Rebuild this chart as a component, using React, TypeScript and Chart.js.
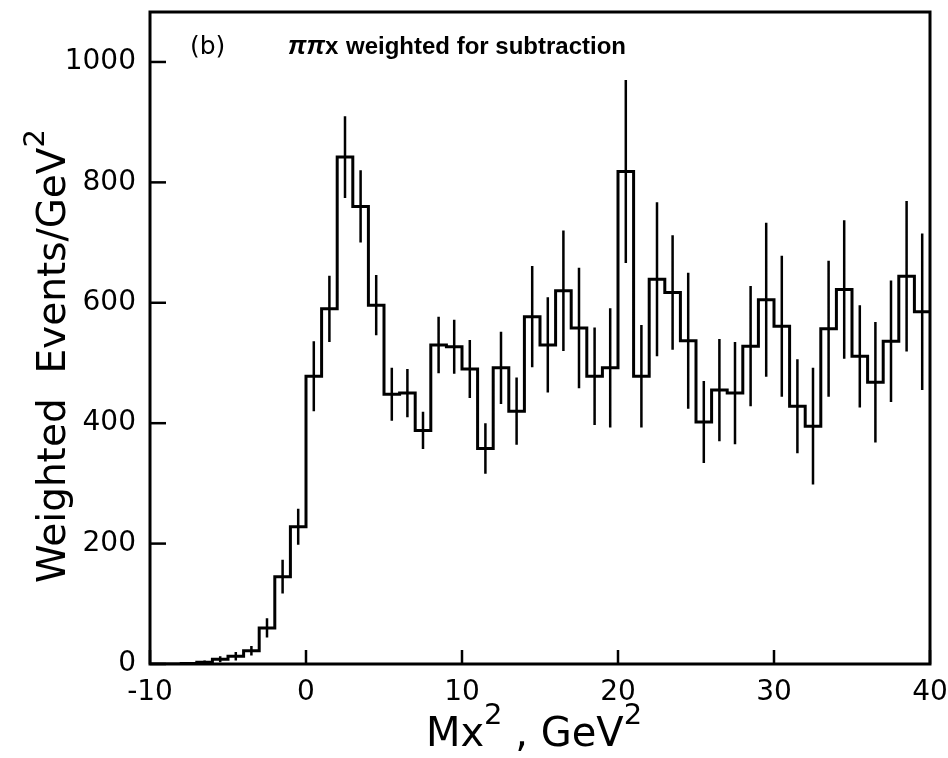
import React, { useEffect, useRef } from 'react';
import { Chart, registerables } from 'chart.js';

Chart.register(...registerables);

// Bin left edges (GeV^2), bin width 1
const binLeftEdges = [
  -10, -9, -8, -7, -6, -5, -4, -3, -2, -1,
  0, 1, 2, 3, 4, 5, 6, 7, 8, 9,
  10, 11, 12, 13, 14, 15, 16, 17, 18, 19,
  20, 21, 22, 23, 24, 25, 26, 27, 28, 29,
  30, 31, 32, 33, 34, 35, 36, 37, 38, 39,
];
const binWidth = 1;
const binValues = [
  0, 0, 1, 3, 8, 13, 22, 60, 145, 228,
  478, 590, 842, 760, 596, 448, 450, 388, 530, 527,
  490, 358, 492, 420, 577, 530, 620, 558, 478, 492,
  818, 478, 639, 617, 537, 402, 455, 450, 528, 605,
  561, 428, 395, 557, 622, 511, 468, 536, 644, 585,
];
const binErrors = [
  0, 0, 0, 3, 5, 7, 8, 16, 28, 30,
  58, 55, 68, 60, 50, 44, 40, 31, 47, 45,
  48, 42, 60, 56, 84, 79, 100, 100, 81, 99,
  152, 85, 128, 95, 113, 68, 85, 85, 100, 128,
  117, 78, 97, 113, 115, 85, 100, 101, 125, 130,
];
const xTickValues = [-10, 0, 10, 20, 30, 40];
const yTickValues = [0, 200, 400, 600, 800, 1000];
const xMin = -10;
const xMax = 40;
const yMin = 0;
const yMax = 1083;

const panelLabel = '(b)';
const panelTitle = 'weighted for subtraction';
const panelTitleGreek = 'ππ';
const xTitle = ['Mx', '2', ' , GeV', '2'];
const yTitle = ['Weighted  Events/GeV', '2'];

const FONT = '"DejaVu Sans", "Liberation Sans", sans-serif';
const FONT2 = '"Liberation Sans", Arial, sans-serif';

const decorPlugin = {
  id: 'decor',
  afterDraw(chart: any) {
    const { ctx, chartArea, scales } = chart;
    const { left, right, top, bottom } = chartArea;
    ctx.save();
    // frame
    ctx.strokeStyle = '#000';
    ctx.lineWidth = 3;
    ctx.strokeRect(left, top, right - left, bottom - top);
    // inward ticks
    ctx.lineWidth = 2.5;
    yTickValues.forEach((v) => {
      const y = scales.y.getPixelForValue(v);
      ctx.beginPath();
      ctx.moveTo(left, y);
      ctx.lineTo(left + 16, y);
      ctx.stroke();
    });
    xTickValues.forEach((v) => {
      const x = scales.x.getPixelForValue(v);
      ctx.beginPath();
      ctx.moveTo(x, bottom);
      ctx.lineTo(x, bottom - 14);
      ctx.stroke();
    });
    ctx.fillStyle = '#000';
    // panel label
    ctx.textBaseline = 'alphabetic';
    ctx.textAlign = 'left';
    ctx.font = `25px ${FONT}`;
    ctx.fillText(panelLabel, left + 40, top + 42);
    ctx.font = `italic bold 26px ${FONT2}`;
    ctx.fillText(panelTitleGreek, left + 138, top + 42);
    const gw = ctx.measureText(panelTitleGreek).width;
    ctx.font = `bold 24px ${FONT2}`;
    ctx.fillText('x', left + 138 + gw, top + 42);
    ctx.fillText(panelTitle, left + 196, top + 42);

    // titles with superscripts
    const drawSup = (parts: string[], big: number, small: number) => {
      let w = 0;
      parts.forEach((p, i) => {
        ctx.font = `${i % 2 === 0 ? big : small}px ${FONT}`;
        w += ctx.measureText(p).width;
      });
      let x = -w / 2;
      parts.forEach((p, i) => {
        const isSup = i % 2 === 1;
        ctx.font = `${isSup ? small : big}px ${FONT}`;
        ctx.fillText(p, x, isSup ? -big * 0.55 : 0);
        x += ctx.measureText(p).width;
      });
    };
    ctx.save();
    ctx.translate(534, 746);
    drawSup(xTitle, 40, 29);
    ctx.restore();

    ctx.save();
    ctx.translate(65, 356);
    ctx.rotate(-Math.PI / 2);
    drawSup(yTitle, 39, 29);
    ctx.restore();

    ctx.restore();
  },
};

export default function App() {
  const canvasRef = useRef<HTMLCanvasElement | null>(null);

  useEffect(() => {
    const canvas = canvasRef.current;
    if (!canvas) return;

    const histPoints = binLeftEdges.map((e, i) => ({ x: e, y: binValues[i] }));
    histPoints.push({
      x: binLeftEdges[binLeftEdges.length - 1] + binWidth,
      y: binValues[binValues.length - 1],
    });

    const errPoints: { x: number; y: number | null }[] = [];
    binLeftEdges.forEach((e, i) => {
      if (binErrors[i] <= 0) return;
      const cx = e + binWidth / 2;
      errPoints.push({ x: cx, y: binValues[i] - binErrors[i] });
      errPoints.push({ x: cx, y: binValues[i] + binErrors[i] });
      errPoints.push({ x: cx, y: null });
    });

    const chart = new Chart(canvas, {
      type: 'line',
      data: {
        datasets: [
          {
            data: histPoints,
            stepped: 'before',
            borderColor: '#000',
            borderWidth: 3,
            pointRadius: 0,
            fill: false,
          },
          {
            data: errPoints as any,
            borderColor: '#000',
            borderWidth: 2.5,
            pointRadius: 0,
            spanGaps: false,
            fill: false,
          },
        ],
      },
      options: {
        responsive: false,
        animation: false,
        events: [],
        layout: { padding: { top: 12, right: 18, left: 0, bottom: 0 } },
        plugins: {
          legend: { display: false },
          tooltip: { enabled: false },
        },
        scales: {
          x: {
            type: 'linear',
            min: xMin,
            max: xMax,
            grid: { display: false, drawTicks: false },
            border: { display: false },
            afterBuildTicks: (s: any) => {
              s.ticks = xTickValues.map((v) => ({ value: v }));
            },
            afterFit: (s: any) => {
              s.height = 94;
              s.paddingLeft = 0;
              s.paddingRight = 0;
            },
            ticks: {
              color: '#000',
              padding: 12,
              font: { family: FONT, size: 28 },
              maxRotation: 0,
              callback: (v: any) => String(v),
            },
          },
          y: {
            type: 'linear',
            min: yMin,
            max: yMax,
            grid: { display: false, drawTicks: false },
            border: { display: false },
            afterBuildTicks: (s: any) => {
              s.ticks = yTickValues.map((v) => ({ value: v }));
            },
            afterFit: (s: any) => {
              s.width = 150;
              s.paddingTop = 0;
              s.paddingBottom = 0;
            },
            ticks: {
              color: '#000',
              padding: 14,
              font: { family: FONT, size: 28 },
              callback: (v: any) => String(v),
            },
          },
        },
      },
      plugins: [decorPlugin],
    });

    return () => chart.destroy();
  }, []);

  return (
    <div style={{ position: 'fixed', left: 0, top: 0, width: 948, height: 758, background: '#fff' }}>
      <canvas ref={canvasRef} width={948} height={758} style={{ display: 'block' }} />
    </div>
  );
}
